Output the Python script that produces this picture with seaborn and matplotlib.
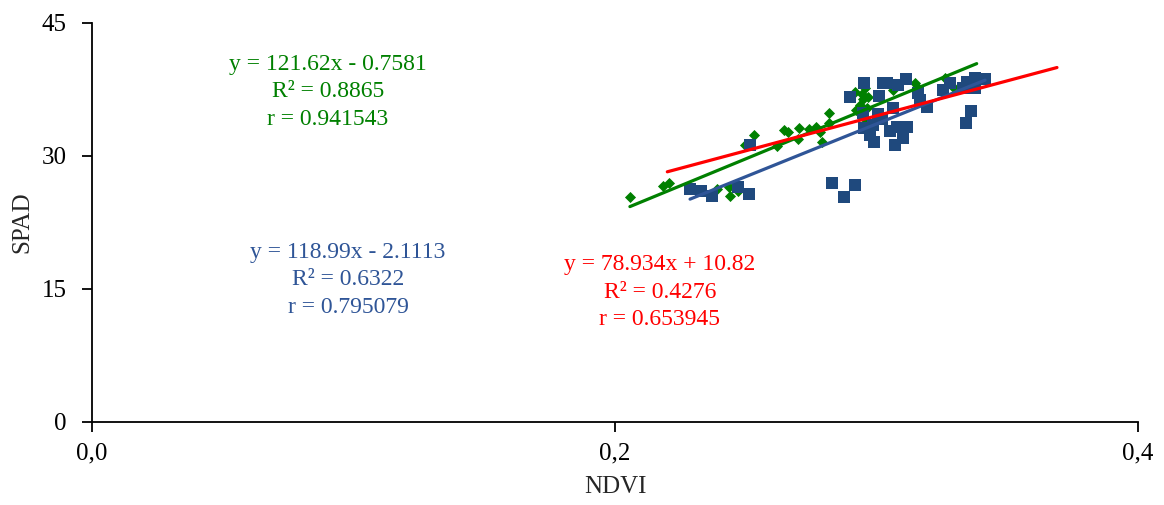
import matplotlib
matplotlib.use("Agg")
import matplotlib.pyplot as plt
import numpy as np
import pandas as pd
import seaborn as sns

# blue squares (series 1)
blue_ndvi = [0.2287, 0.2328, 0.2370, 0.2472, 0.2514, 0.2516, 0.2831, 0.2918, 0.2877,
             0.2952, 0.3024, 0.3040, 0.3082, 0.3113, 0.2899, 0.3010, 0.3158, 0.3166,
             0.3192, 0.3063, 0.3006, 0.2948, 0.3020, 0.2952, 0.2987, 0.3052, 0.3077,
             0.3117, 0.2975, 0.2990, 0.3101, 0.3071, 0.3254, 0.3281, 0.3331, 0.3345,
             0.3377, 0.3377, 0.3415, 0.3360, 0.3342]
blue_spad = [26.21, 26.02, 25.44, 26.50, 25.65, 31.21, 26.89, 26.66, 25.31,
             38.16, 38.23, 38.23, 37.97, 38.65, 36.58, 36.73, 37.04, 36.28,
             35.52, 35.41, 34.70, 34.81, 34.10, 33.12, 33.46, 32.82, 33.27,
             33.20, 32.34, 31.54, 32.00, 31.21, 37.41, 38.23, 37.63, 38.34,
             38.76, 37.63, 38.61, 35.07, 33.65]

# green diamonds (series 2)
green_ndvi = [0.2057, 0.2182, 0.2208, 0.2391, 0.2436, 0.2440, 0.2469, 0.2532, 0.2497,
              0.2618, 0.2647, 0.2663, 0.2704, 0.2699, 0.2742, 0.2769, 0.2784, 0.2793,
              0.2817, 0.2820, 0.2918, 0.2956, 0.2922, 0.2937, 0.2950, 0.2969, 0.2963,
              0.3064, 0.3147, 0.3154, 0.3262, 0.3294, 0.3383, 0.2960, 0.2945]
green_spad = [25.38, 26.62, 26.92, 26.21, 26.50, 25.45, 26.02, 32.33, 31.21,
              31.09, 32.90, 32.64, 33.09, 31.88, 33.01, 33.20, 32.71, 31.58,
              33.65, 34.78, 37.22, 37.60, 35.15, 35.72, 36.36, 36.65, 35.35,
              37.41, 38.16, 37.78, 38.73, 37.78, 38.16, 34.03, 36.92]

# trend line coefficients (slope, intercept) as printed on the chart
blue_fit = (118.99, -2.1113)
green_fit = (121.62, -0.7581)
red_fit = (78.934, 10.82)
red_range = [0.22, 0.369]

blue_text = ["y = 118.99x - 2.1113", "R² = 0.6322", "r = 0.795079"]
green_text = ["y = 121.62x - 0.7581", "R² = 0.8865", "r = 0.941543"]
red_text = ["y = 78.934x + 10.82", "R² = 0.4276", "r = 0.653945"]

x_ticks = [0.0, 0.2, 0.4]
x_tick_labels = ["0,0", "0,2", "0,4"]
y_ticks = [0, 15, 30, 45]

BLUE = "#1F497D"
BLUE_LINE = "#2F5597"
GREEN = "#008000"
RED = "#FF0000"

sns.set_style("white")
plt.rcParams["font.family"] = ["Liberation Serif", "DejaVu Serif"]

fig = plt.figure(figsize=(11.64, 5.05), dpi=100)
ax = fig.add_axes([0.079, 0.165, 0.8987, 0.79])

sns.scatterplot(x=green_ndvi, y=green_spad, marker="D", s=32, color=GREEN,
                edgecolor=GREEN, linewidth=0, ax=ax, zorder=2)
sns.scatterplot(x=blue_ndvi, y=blue_spad, marker="s", s=82, color=BLUE,
                edgecolor=BLUE, linewidth=0, ax=ax, zorder=3)


def fit_line(fit, lo, hi):
    xs = np.array([lo, hi])
    return pd.DataFrame({"x": xs, "y": fit[0] * xs + fit[1]})


blue_line = fit_line(blue_fit, min(blue_ndvi), max(blue_ndvi))
green_line = fit_line(green_fit, min(green_ndvi), max(green_ndvi))
red_line = fit_line(red_fit, red_range[0], red_range[1])
sns.lineplot(data=blue_line, x="x", y="y", color=BLUE_LINE, linewidth=2.3, ax=ax, zorder=4)
sns.lineplot(data=green_line, x="x", y="y", color=GREEN, linewidth=2.3, ax=ax, zorder=5)
sns.lineplot(data=red_line, x="x", y="y", color=RED, linewidth=2.3, ax=ax, zorder=6)

# equation labels, anchored on the middle line
for lines, color, (tx, ty) in [(green_text, GREEN, (0.0902, 37.2)),
                               (blue_text, BLUE_LINE, (0.0979, 16.0)),
                               (red_text, RED, (0.2172, 14.6))]:
    ax.text(tx, ty, "\n".join(lines), color=color, fontsize=17, ha="center",
            va="center", linespacing=1.4)

ax.set_xlim(0, 0.4)
ax.set_ylim(0, 45)
ax.set_xticks(x_ticks)
ax.set_xticklabels(x_tick_labels)
ax.set_yticks(y_ticks)
ax.tick_params(axis="both", direction="out", length=7, width=1.3, labelsize=18,
               colors="black", bottom=True, left=True)
ax.tick_params(axis="y", pad=11)
ax.tick_params(axis="x", pad=8)
for side in ["top", "right"]:
    ax.spines[side].set_visible(False)
for side in ["left", "bottom"]:
    ax.spines[side].set_color("black")
    ax.spines[side].set_linewidth(1.3)
ax.set_xlabel("NDVI", fontsize=18, labelpad=8)
ax.set_ylabel("SPAD", fontsize=18, labelpad=6)

fig.savefig("out.png", dpi=100)
